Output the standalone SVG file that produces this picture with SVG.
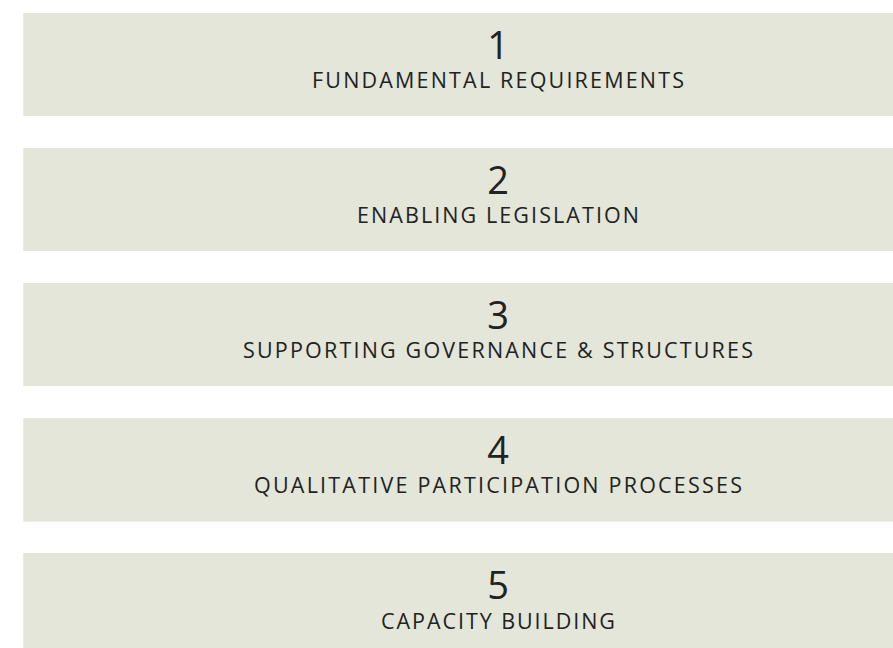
<svg xmlns="http://www.w3.org/2000/svg" width="893" height="648" viewBox="0 0 893 648">
  <style>
    .box { fill: #e3e6d8; }
    .num { font-family: "Open Sans", "Noto Sans", sans-serif; font-size: 38px; font-weight: 500; fill: #222222; text-anchor: middle; }
    .cap { font-family: "Open Sans", "Noto Sans", sans-serif; font-size: 21.5px; font-weight: 500; fill: #222222; text-anchor: middle; }
  </style>
  <rect width="893" height="648" fill="#ffffff"/>

  <g id="step-1">
    <rect class="box" x="23.3" y="13" width="880" height="103"/>
    <text class="num" x="498" y="58.5">1</text>
    <text class="cap" x="498" y="88" textLength="372" lengthAdjust="spacing">FUNDAMENTAL REQUIREMENTS</text>
  </g>

  <g id="step-2">
    <rect class="box" x="23.3" y="148" width="880" height="103"/>
    <text class="num" x="498" y="193.5">2</text>
    <text class="cap" x="498" y="223" textLength="282" lengthAdjust="spacing">ENABLING LEGISLATION</text>
  </g>

  <g id="step-3">
    <rect class="box" x="23.3" y="283" width="880" height="103"/>
    <text class="num" x="498" y="328.5">3</text>
    <text class="cap" x="498" y="358" textLength="510" lengthAdjust="spacing">SUPPORTING GOVERNANCE &amp; STRUCTURES</text>
  </g>

  <g id="step-4">
    <rect class="box" x="23.3" y="418" width="880" height="103.7"/>
    <text class="num" x="498" y="463.5">4</text>
    <text class="cap" x="498" y="493" textLength="488" lengthAdjust="spacing">QUALITATIVE PARTICIPATION PROCESSES</text>
  </g>

  <g id="step-5">
    <rect class="box" x="23.3" y="553" width="880" height="103"/>
    <text class="num" x="498" y="599">5</text>
    <text class="cap" x="498" y="628.5" textLength="234" lengthAdjust="spacing">CAPACITY BUILDING</text>
  </g>

  <g id="connectors"></g>
</svg>
